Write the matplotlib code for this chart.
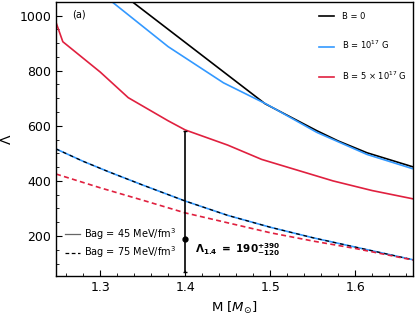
import numpy as np
import matplotlib
matplotlib.use("Agg")
import matplotlib.pyplot as plt
from matplotlib.lines import Line2D

# upper curves (Bag = 45)
m_b0 = [1.30, 1.339, 1.494, 1.555, 1.58, 1.614, 1.668]
lam_b0 = [1140, 1047, 680, 582, 545, 502, 451]

m_b17 = [1.28, 1.315, 1.380, 1.445, 1.496, 1.555, 1.614, 1.668]
lam_b17 = [1133, 1047, 887, 756, 678, 576, 496, 444]

m_b5 = [1.248, 1.256, 1.30, 1.333, 1.38, 1.40, 1.45, 1.49, 1.574, 1.62, 1.668]
lam_b5 = [975, 905, 795, 702, 618, 585, 530, 478, 400, 365, 335]

# lower curves (Bag = 75)
m_low = [1.248, 1.28, 1.31, 1.35, 1.40, 1.45, 1.50, 1.55, 1.60, 1.668]
lam_low = [516, 471, 433, 385, 327, 275, 232, 194, 160, 114]
m_low_b5 = [1.248, 1.30, 1.35, 1.40, 1.45, 1.50, 1.55, 1.60, 1.668]
lam_low_b5 = [425, 375, 330, 284, 248, 212, 182, 155, 113]

# Lambda_1.4 constraint
m_obs = 1.4
lam_obs = 190
err_up = 390
err_lo = 120

blue = '#3399ff'
red = '#e0203f'
lw = 1.2

fig = plt.figure(figsize=(4.15, 3.2), dpi=100)
ax = fig.add_axes([0.135, 0.1375, 0.86, 0.857])

ax.plot(m_b0, lam_b0, color='k', lw=lw, label='B = 0')
ax.plot(m_b17, lam_b17, color=blue, lw=lw, label='B = 10$^{17}$ G')
ax.plot(m_b5, lam_b5, color=red, lw=lw, label='B = 5 × 10$^{17}$ G')

ax.plot(m_low, lam_low, color=blue, lw=lw)
ax.plot(m_low, lam_low, color='k', lw=0.9, ls=(0, (3, 3)))
ax.plot(m_low_b5, lam_low_b5, color=red, lw=lw, ls=(0, (3, 2)))

ax.errorbar([m_obs], [lam_obs], yerr=[[err_lo], [err_up]], fmt='o', color='k',
            ms=3.5, lw=1.2, capsize=1.5, capthick=1.0)

leg1 = ax.legend(loc='upper right', bbox_to_anchor=(1.0, 0.985), frameon=False,
                 fontsize=6, handlelength=1.8, labelspacing=2.2,
                 borderaxespad=0.3, handletextpad=1.0)
ax.add_artist(leg1)

bag_handles = [Line2D([], [], color='0.4', lw=0.9),
               Line2D([], [], color='k', lw=0.9, ls=(0, (3, 2)))]
ax.legend(bag_handles, ['Bag = 45 MeV/fm$^3$', 'Bag = 75 MeV/fm$^3$'],
          loc='lower left', bbox_to_anchor=(0.0, 0.025), frameon=False, fontsize=7,
          handlelength=1.6, labelspacing=0.3, handletextpad=0.4)

ax.text(1.412, 150, r'$\mathbf{\Lambda_{1.4}\ =\ 190^{+390}_{-120}}$', fontsize=7.5,
        va='center', ha='left')
ax.text(0.045, 0.97, '(a)', transform=ax.transAxes, fontsize=7, va='top')

ax.set_xlim(1.248, 1.668)
ax.set_ylim(55, 1050)
ax.set_xticks([1.3, 1.4, 1.5, 1.6])
ax.set_xticks(np.arange(1.26, 1.67, 0.02), minor=True)
ax.set_yticks([200, 400, 600, 800, 1000])
ax.set_yticks(np.arange(100, 1050, 50), minor=True)
ax.tick_params(which='both', direction='in', labelsize=9)
ax.tick_params(which='major', length=4)
ax.tick_params(which='minor', length=2.5)
for s in ax.spines.values():
    s.set_linewidth(1.0)

ax.set_xlabel(r'M [$M_{\odot}$]', fontsize=9.5)
ax.set_ylabel(r'$\Lambda$', fontsize=10)

fig.savefig('out.png', dpi=100)
